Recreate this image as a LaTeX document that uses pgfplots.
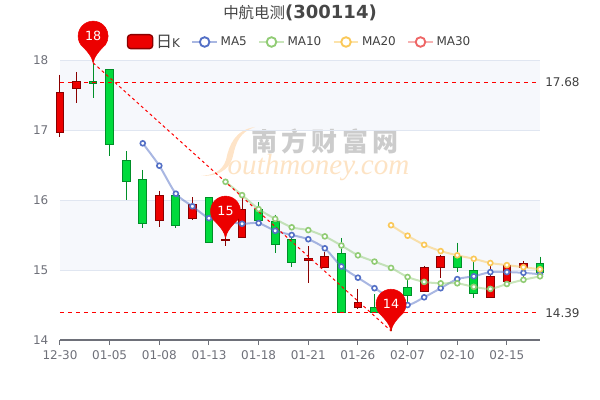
\documentclass[border=0pt]{standalone}
\usepackage{fontspec}
\usepackage{pgfplots}
\pgfplotsset{compat=1.18}
\setmainfont{DejaVu Sans}
\newfontfamily\cjk{Noto Sans CJK SC}
\newfontfamily\wmserif{Liberation Serif}
\definecolor{upc}{HTML}{EC0000}
\definecolor{upb}{HTML}{8A0000}
\definecolor{dnc}{HTML}{00DA3C}
\definecolor{dnb}{HTML}{008F28}
\definecolor{mafive}{HTML}{5470C6}
\definecolor{maten}{HTML}{91CC75}
\definecolor{matw}{HTML}{FAC858}
\definecolor{math}{HTML}{EE6666}
\definecolor{axgray}{HTML}{6E7079}
\definecolor{gridc}{HTML}{E0E6F1}
\definecolor{band}{HTML}{F6F8FC}
\definecolor{wmo}{HTML}{FDE3C4}
\pgfdeclareplotmark{pin}{%
  \fill[upc] (0pt,0pt) .. controls (-0.6pt,4.5pt) and (-5pt,9.5pt) .. (-9.2pt,13.55pt)
    arc[start angle=215,end angle=-35,radius=11.25pt]
    .. controls (5pt,9.5pt) and (0.6pt,4.5pt) .. (0pt,0pt) -- cycle;
}
\newcommand\candle[7]{%
  \pgfmathsetmacro\xa{#3-0.235}%
  \pgfmathsetmacro\xb{#3+0.235}%
  \edef\tmp{\noexpand\addplot[forget plot,draw=#2,line width=.75pt,mark=none] coordinates {(#3,#6)(#3,#7)};
  \noexpand\addplot[forget plot,draw=#2,fill=#1,line width=.75pt,mark=none] coordinates {(\xa,#4)(\xb,#4)(\xb,#5)(\xa,#5)} -- cycle;}%
  \tmp
}
\newcommand\up[5]{\candle{upc}{upb}{#1}{#2}{#3}{#4}{#5}}
\newcommand\dn[5]{\candle{dnc}{dnb}{#1}{#2}{#3}{#4}{#5}}
\pgfplotsset{
  ma/.style={forget plot,smooth,tension=0.45,line width=1.5pt,draw=#1,draw opacity=.5,
    mark=*,mark size=1.85pt,mark options={draw=#1,draw opacity=1,fill=white,line width=1.2pt,solid}},
  malegend/.style={legend image code/.code={
    \draw[line width=1.5pt,#1,opacity=.5] (0pt,0pt)--(18.5pt,0pt);
    \draw[line width=1.4pt,#1,fill=white] (9.25pt,0pt) circle (3.6pt);}},
}
\begin{document}
\begin{tikzpicture}
\useasboundingbox (0,0) rectangle (450pt,300pt);
\begin{scope}[x=0.75pt,y=-0.75pt,yshift=300pt]
\fill[band] (60,60) rectangle (540,130);
\fill[band] (60,200) rectangle (540,270);
\fill[wmo!90!orange!70] (255,127) .. controls (235,130) and (229,145) .. (226,160)
   .. controls (222,172) and (212,175) .. (201,176)
   .. controls (216,176) and (229,172) .. (233,156)
   .. controls (236,142) and (240,132) .. (255,127) -- cycle;
\node[text=black!20,font={\cjk\bfseries\fontsize{19.5}{19.5}\selectfont},anchor=center,inner sep=0pt] at (325,141) {南\,方\,财\,富\,网};
\node[text=wmo,font={\wmserif\itshape\fontsize{21.8}{22}\selectfont},anchor=center,inner sep=0pt] at (318.5,168) {outhmoney.com};
\node[text=black!72,anchor=center,inner sep=0pt] at (300,13) {{\cjk\fontsize{11.6}{12}\selectfont 中航电测}{\bfseries\fontsize{13.5}{14}\selectfont (300114)}};
\end{scope}
\begin{axis}[
  at={(45pt,45pt)},anchor=south west,
  scale only axis,width=360pt,height=210pt,
  xmin=0,xmax=29,ymin=14,ymax=18,
  clip=false,
  axis x line*=bottom,axis y line*=left,
  axis line style={-},
  y axis line style={draw=none},
  x axis line style={draw=axgray,line width=.75pt},
  ytick={14,15,16,17,18},
  ymajorgrids,
  grid style={gridc,line width=.75pt},
  xtick={0,3,6,9,12,15,18,21,24,27},
  xticklabels={12-30,01-05,01-08,01-13,01-18,01-21,01-26,02-07,02-10,02-15},
  tick align=outside,
  major tick length=3.75pt,
  ytick style={draw=none},
  xtick style={draw=axgray,line width=.75pt},
  ticklabel style={font=\fontsize{9}{10}\selectfont,text=axgray},
  yticklabel style={xshift=-1.5pt},
  xticklabel style={yshift=-1pt},
  /pgf/number format/assume math mode=true,
  legend columns=5,
  legend cell align=left,
  legend style={draw=none,fill=none,at={(53pt,223.5pt)},anchor=west,inner sep=0pt,outer sep=0pt,
    font=\fontsize{9}{10}\selectfont,text=black!75,
    /tikz/every even column/.append style={column sep=6.5pt}},
  legend entries={{\cjk\fontsize{12}{12}\selectfont 日}K,MA5,MA10,MA20,MA30},
]
\addlegendimage{legend image code/.code={\draw[fill=upc,draw=upb,line width=1pt,rounded corners=2.5pt] (0pt,-5pt) rectangle (19pt,5.5pt);}}
\addlegendimage{malegend=mafive}
\addlegendimage{malegend=maten}
\addlegendimage{malegend=matw}
\addlegendimage{malegend=math}
% open/close lower, upper, high, low
\up{0}{16.97}{17.54}{17.79}{16.90}
\up{1}{17.60}{17.69}{17.83}{17.38}
\dn{2}{17.66}{17.69}{17.96}{17.46}
\dn{3}{16.80}{17.86}{17.86}{16.63}
\dn{4}{16.27}{16.56}{16.70}{16.00}
\dn{5}{15.67}{16.30}{16.43}{15.60}
\up{6}{15.71}{16.06}{16.13}{15.61}
\dn{7}{15.64}{16.06}{16.09}{15.60}
\up{8}{15.73}{15.94}{16.04}{15.71}
\dn{9}{15.40}{16.03}{16.03}{15.38}
\up{10}{15.42}{15.44}{15.46}{15.34}
\up{11}{15.47}{15.86}{16.03}{15.46}
\dn{12}{15.71}{15.86}{15.97}{15.71}
\dn{13}{15.36}{15.70}{15.79}{15.24}
\dn{14}{15.11}{15.44}{15.50}{15.04}
\up{15}{15.13}{15.16}{15.34}{14.81}
\up{16}{15.03}{15.20}{15.26}{15.03}
\dn{17}{14.40}{15.23}{15.46}{14.40}
\up{18}{14.46}{14.54}{14.73}{14.44}
\dn{19}{14.39}{14.47}{14.66}{14.39}
\dn{20}{14.35}{14.50}{14.60}{14.13}
\dn{21}{14.63}{14.75}{14.86}{14.54}
\up{22}{14.70}{15.03}{15.06}{14.70}
\up{23}{15.03}{15.19}{15.21}{14.89}
\dn{24}{15.03}{15.20}{15.39}{14.97}
\dn{25}{14.67}{14.99}{15.11}{14.60}
\up{26}{14.61}{14.91}{15.06}{14.61}
\up{27}{14.84}{15.07}{15.07}{14.84}
\up{28}{15.03}{15.10}{15.13}{14.90}
\dn{29}{14.97}{15.10}{15.19}{14.97}
% moving averages
\addplot[ma=mafive] coordinates {(5,16.81)(6,16.49)(7,16.09)(8,15.91)(9,15.74)(10,15.70)(11,15.66)(12,15.67)(13,15.56)(14,15.50)(15,15.44)(16,15.31)(17,15.05)(18,14.89)(19,14.74)(20,14.60)(21,14.50)(22,14.61)(23,14.74)(24,14.87)(25,14.91)(26,14.97)(27,14.97)(28,14.96)(29,14.94)};
\addplot[ma=maten] coordinates {(10,16.26)(11,16.07)(12,15.87)(13,15.73)(14,15.61)(15,15.57)(16,15.48)(17,15.35)(18,15.21)(19,15.12)(20,15.03)(21,14.90)(22,14.83)(23,14.81)(24,14.81)(25,14.76)(26,14.73)(27,14.80)(28,14.86)(29,14.91)};
\addplot[ma=matw] coordinates {(20,15.64)(21,15.49)(22,15.36)(23,15.27)(24,15.21)(25,15.16)(26,15.10)(27,15.07)(28,15.04)(29,15.01)};
% mark lines
\addplot[forget plot,red,line width=.75pt,dash pattern=on 3pt off 3pt,mark=none] coordinates {(0,17.68)(29,17.68)};
\addplot[forget plot,red,line width=.75pt,dash pattern=on 3pt off 3pt,mark=none] coordinates {(0,14.39)(29,14.39)};
\addplot[forget plot,red,line width=.75pt,dash pattern=on 2.2pt off 2.2pt,mark=none] coordinates {(2,17.96)(20,14.13)};
\node[anchor=west,font=\fontsize{9}{10}\selectfont,text=black!75,inner sep=0pt] at (axis cs:29,17.68) {\hspace{3.75pt}17.68};
\node[anchor=west,font=\fontsize{9}{10}\selectfont,text=black!75,inner sep=0pt] at (axis cs:29,14.39) {\hspace{3.75pt}14.39};
% pins
\addplot[forget plot,only marks,mark=pin,point meta=explicit symbolic,
  nodes near coords,
  nodes near coords style={anchor=center,yshift=20pt,text=white,font=\fontsize{9.5}{10}\selectfont,inner sep=0pt}]
  coordinates {(2,17.96)[18] (10,15.46)[15] (20,14.13)[14]};
\end{axis}
\end{tikzpicture}
\end{document}
